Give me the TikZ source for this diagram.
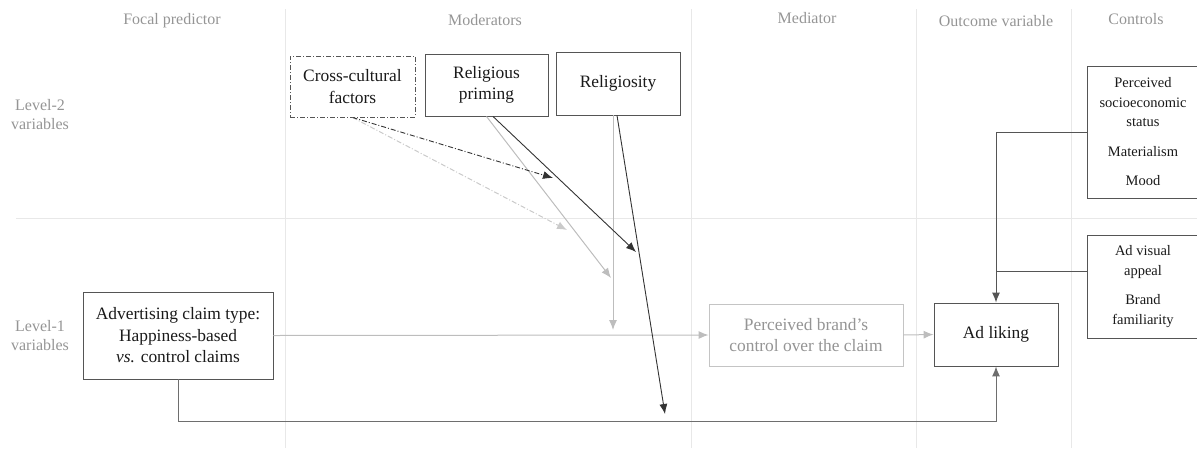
\documentclass[tikz,border=0pt]{standalone}
\usepackage{fontspec}
\setmainfont{Liberation Serif}
\usetikzlibrary{arrows.meta}
\definecolor{sepc}{HTML}{E8E8E8}
\definecolor{headc}{HTML}{959595}
\definecolor{boxc}{HTML}{555555}
\definecolor{txtc}{HTML}{1A1A1A}
\definecolor{lgray}{HTML}{BDBDBD}
\definecolor{pbcc}{HTML}{C4C4C4}
\definecolor{pbct}{HTML}{959595}
\definecolor{botc}{HTML}{6E6E6E}
\tikzset{
  sep/.style={draw=sepc, line width=1pt},
  head/.style={text=headc, font=\fontsize{16}{19}\selectfont, inner sep=0pt, align=center},
  vbox/.style={draw=boxc, line width=0.9pt, fill=white, text=txtc, inner sep=0pt, align=center,
     font=\fontsize{17.4}{21.5}\selectfont},
  cbox/.style={draw=boxc, line width=0.9pt, fill=white, text=txtc, inner sep=0pt, align=center,
     font=\fontsize{14.5}{19.5}\selectfont},
  darrow/.style={draw=boxc, line width=1pt, -{Latex[length=10pt,width=8pt]}},
  blkarrow/.style={draw=black!80, line width=0.9pt, -{Latex[length=10pt,width=8pt]}},
  garrow/.style={draw=lgray, line width=1pt, -{Latex[length=10pt,width=8pt]}},
  dashdot/.style={dash pattern=on 5pt off 2pt on 1pt off 2pt},
}
\begin{document}
\begin{tikzpicture}[x=1pt,y=-1pt]
\useasboundingbox (0,0) rectangle (1197,448);
% separators
\foreach \xx in {285,691,916,1071} \draw[sep] (\xx,9) -- (\xx,448);
\draw[sep] (16,218) -- (1197,218);
% headers
\node[head] (h1) at (172,21) {Focal predictor};
\node[head] (h2) at (485,20) {Moderators};
\node[head] (h3) at (807,18) {Mediator};
\node[head] (h4) at (996,21) {Outcome variable};
\node[head] (h5) at (1136,19) {Controls};
\node[head] (l2) at (40,115) {Level-2\\variables};
\node[head] (l1) at (40,336) {Level-1\\variables};
% coordinates
\coordinate (bot) at (0,421);
\coordinate (j2) at (996,271);
\coordinate (t1) at (665,414);
\coordinate (g1) at (613,330);
\coordinate (t2) at (636,252);
\coordinate (t3) at (611,278);
\coordinate (t4) at (553,178);
\coordinate (t5) at (567,230);
% nodes
\node[vbox, draw=boxc, dashdot, minimum width=125pt, minimum height=61pt] (cc) at (352.5,86.5) {Cross-cultural\\factors};
\node[vbox, minimum width=123pt, minimum height=62pt] (rp) at (486.5,85) {Religious\\priming};
\node[vbox, minimum width=124pt, minimum height=63pt] (rel) at (618,83.5) {Religiosity};
\node[cbox, minimum width=112pt, minimum height=132pt] (c1) at (1143,132) {Perceived\\socioeconomic\\status\\[10pt]Materialism\\[10pt]Mood};
\node[cbox, minimum width=112pt, minimum height=103pt] (c2) at (1143,286.5) {Ad visual\\appeal\\[10pt]Brand\\familiarity};
\node[vbox, minimum width=124pt, minimum height=63pt] (adl) at (996,334.5) {Ad liking};
\node[vbox, draw=pbcc, text=pbct, minimum width=194pt, minimum height=62pt] (pbc) at (806,335) {Perceived brand’s\\control over the claim};
\node[vbox, minimum width=190pt, minimum height=87pt] (adv) at (178,335.5) {Advertising claim type:\\Happiness-based\\\textit{vs.} control claims};
% connectors
\draw[garrow] (adv.east) -- (pbc.west);
\draw[garrow] (pbc.east) -- (adl.west);
\draw[darrow, draw=botc] (adv.south) -- (adv.south |- bot) -| (adl.south);
\draw[darrow] (c1.west) -| (adl.north);
\draw[boxc, line width=1pt] (c2.west |- j2) -- (j2);
\draw[garrow] (rel.south -| g1) -- (g1);
\draw[blkarrow] ([xshift=-1pt]rel.south) -- (t1);
\draw[garrow] (rp.south) -- (t3);
\draw[blkarrow] ([xshift=6.5pt]rp.south) -- (t2);
\draw[garrow, draw=lgray!80, dashdot] (cc.south) -- (t5);
\draw[blkarrow, dashdot] (cc.south) -- (t4);
\end{tikzpicture}
\end{document}
